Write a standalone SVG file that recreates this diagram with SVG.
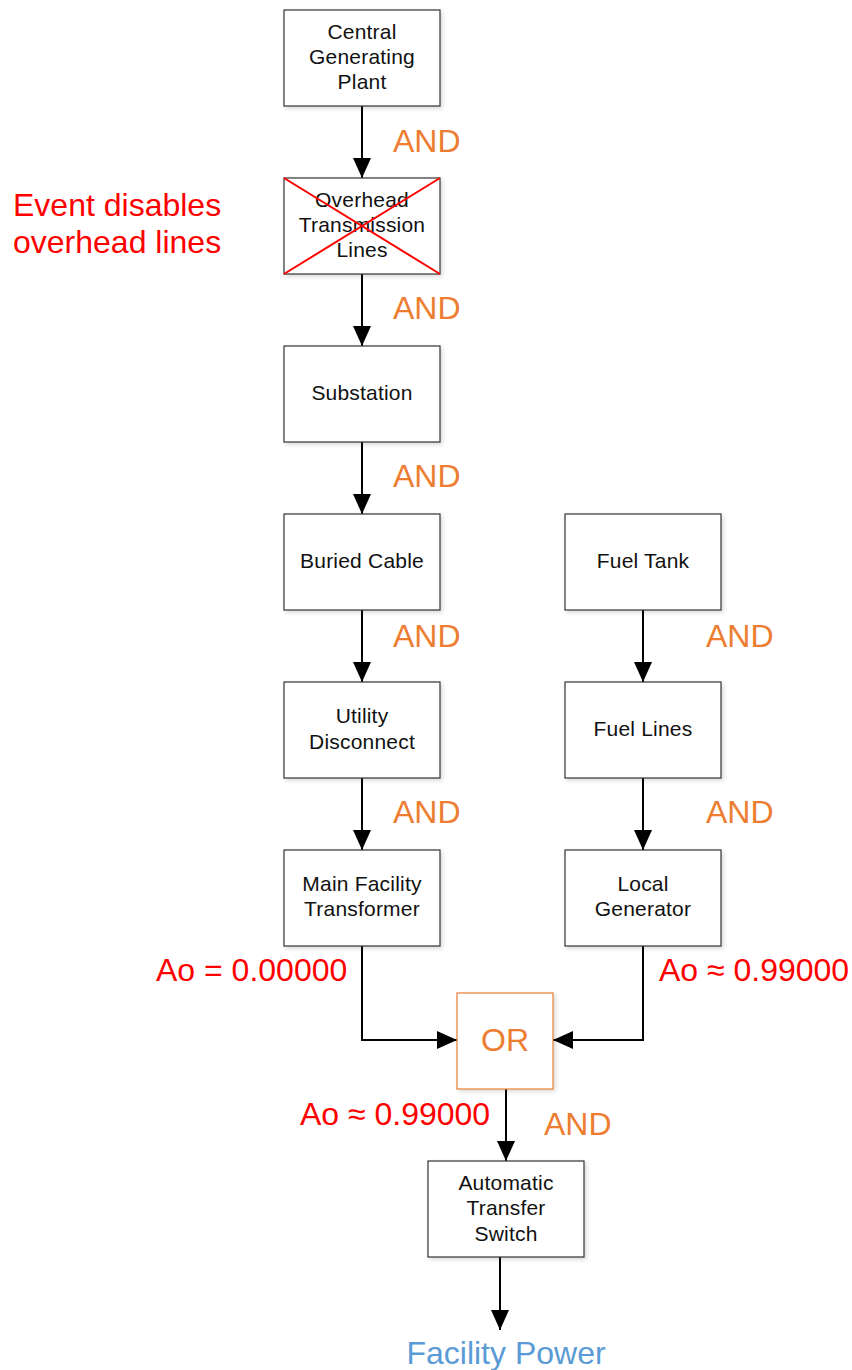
<svg xmlns="http://www.w3.org/2000/svg" width="852" height="1370" viewBox="0 0 852 1370">
<style>
.box{fill:#fff;stroke:#333;stroke-width:1.2;filter:url(#sh)}
.or{fill:#fff;stroke:#ED7D31;stroke-width:1.2;filter:url(#sh)}
.t{font-family:"Liberation Sans",Arial,sans-serif;font-size:21px;letter-spacing:0.2px;fill:#111;text-anchor:middle}
.and{font-family:"Liberation Sans",Arial,sans-serif;font-size:32px;fill:#ED7D31}
.red{font-family:"Liberation Sans",Arial,sans-serif;font-size:32px;fill:#FF0000}
.blue{font-family:"Liberation Sans",Arial,sans-serif;font-size:32px;fill:#5B9BD5;text-anchor:middle}
.c{fill:none;stroke:#000;stroke-width:2;marker-end:url(#ah)}
</style>
<defs>
<filter id="sh" x="-10%" y="-10%" width="130%" height="130%">
<feDropShadow dx="2" dy="2" stdDeviation="2" flood-color="#000" flood-opacity="0.15"/>
</filter>
<marker id="ah" markerUnits="userSpaceOnUse" markerWidth="20" markerHeight="18" refX="20" refY="9" orient="auto">
<path d="M0,0 L20,9 L0,18 Z" fill="#000"/>
</marker>
</defs>
<rect width="852" height="1370" fill="#fff"/>

<g id="connectors">
<path class="c" d="M362,106 V178"/>
<path class="c" d="M362,274 V346"/>
<path class="c" d="M362,442 V514"/>
<path class="c" d="M362,610 V682"/>
<path class="c" d="M362,778 V850"/>
<path class="c" d="M643,610 V682"/>
<path class="c" d="M643,778 V850"/>
<path class="c" d="M362,946 V1040 H457"/>
<path class="c" d="M643,946 V1040 H553"/>
<path class="c" d="M506,1089 V1161"/>
<path class="c" d="M500,1257 V1330"/>
</g>

<g id="n-central">
<rect class="box" x="284" y="10" width="156" height="96"/>
<text class="t" x="362" y="39">Central</text>
<text class="t" x="362" y="64">Generating</text>
<text class="t" x="362" y="89">Plant</text>
</g>
<g id="n-overhead">
<rect class="box" x="284" y="178" width="156" height="96"/>
<text class="t" x="362" y="207">Overhead</text>
<text class="t" x="362" y="232">Transmission</text>
<text class="t" x="362" y="257">Lines</text>
<path d="M284,178 L440,274 M284,274 L440,178" stroke="#FF0000" stroke-width="2"/>
</g>
<g id="n-substation">
<rect class="box" x="284" y="346" width="156" height="96"/>
<text class="t" x="362" y="400">Substation</text>
</g>
<g id="n-buried">
<rect class="box" x="284" y="514" width="156" height="96"/>
<text class="t" x="362" y="568">Buried Cable</text>
</g>
<g id="n-utility">
<rect class="box" x="284" y="682" width="156" height="96"/>
<text class="t" x="362" y="723">Utility</text>
<text class="t" x="362" y="749">Disconnect</text>
</g>
<g id="n-mainxfmr">
<rect class="box" x="284" y="850" width="156" height="96"/>
<text class="t" x="362" y="891">Main Facility</text>
<text class="t" x="362" y="916">Transformer</text>
</g>
<g id="n-fueltank">
<rect class="box" x="565" y="514" width="156" height="96"/>
<text class="t" x="643" y="568">Fuel Tank</text>
</g>
<g id="n-fuellines">
<rect class="box" x="565" y="682" width="156" height="96"/>
<text class="t" x="643" y="736">Fuel Lines</text>
</g>
<g id="n-generator">
<rect class="box" x="565" y="850" width="156" height="96"/>
<text class="t" x="643" y="891">Local</text>
<text class="t" x="643" y="916">Generator</text>
</g>
<g id="n-or">
<rect class="or" x="457" y="993" width="96" height="96"/>
<text class="and" x="505" y="1051" text-anchor="middle">OR</text>
</g>
<g id="n-ats">
<rect class="box" x="428" y="1161" width="156" height="96"/>
<text class="t" x="506" y="1190">Automatic</text>
<text class="t" x="506" y="1215">Transfer</text>
<text class="t" x="506" y="1241">Switch</text>
</g>

<g id="labels">
<text class="and" x="393" y="152">AND</text>
<text class="and" x="393" y="319">AND</text>
<text class="and" x="393" y="487">AND</text>
<text class="and" x="393" y="647">AND</text>
<text class="and" x="393" y="823">AND</text>
<text class="and" x="706" y="647">AND</text>
<text class="and" x="706" y="823">AND</text>
<text class="and" x="544" y="1135">AND</text>
<text class="red" x="13" y="216">Event disables</text>
<text class="red" x="13" y="253">overhead lines</text>
<text class="red" x="156" y="981">Ao = 0.00000</text>
<text class="red" x="659" y="981">Ao ≈ 0.99000</text>
<text class="red" x="300" y="1125">Ao ≈ 0.99000</text>
<text class="blue" x="506" y="1364">Facility Power</text>
</g>
</svg>
